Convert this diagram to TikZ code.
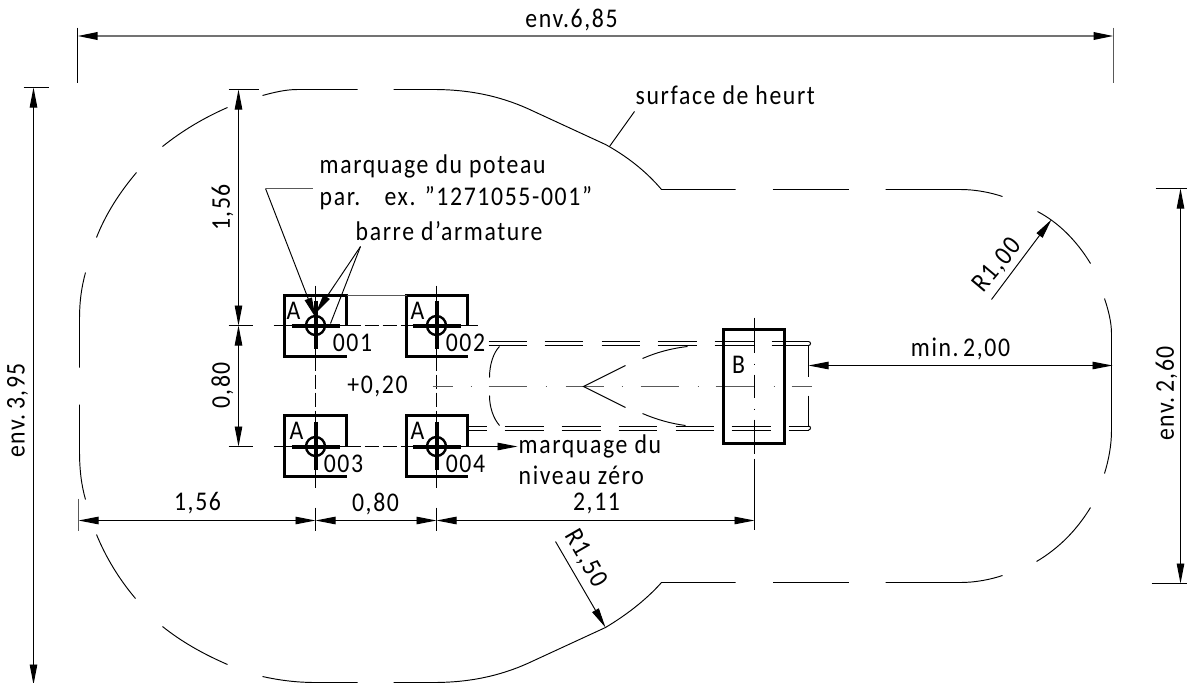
\documentclass[tikz,border=0pt]{standalone}
\usepackage{fontspec}
\setmainfont[LetterSpace=6,FakeStretch=0.88]{Carlito}
\usetikzlibrary{arrows.meta}
\tikzset{
  x=1pt,y=-1pt,
  thinl/.style={line width=0.95pt,black},
  grayl/.style={line width=1pt,black!65},
  postline/.style={line width=3.2pt,black,line cap=butt},
  barline/.style={line width=4pt,black,line cap=butt},
  dimarrow/.style={line width=0.95pt,black,{Stealth[inset=0pt,length=20pt,width=7.5pt]}-{Stealth[inset=0pt,length=20pt,width=7.5pt]}},
  topdim/.style={line width=1.8pt,black!55,{Stealth[inset=0pt,length=20pt,width=7.5pt,black]}-{Stealth[inset=0pt,length=20pt,width=7.5pt,black]}},
  onearrow/.style={line width=0.95pt,black,-{Stealth[inset=0pt,length=20pt,width=7.5pt]}},
  lbl/.style={inner sep=0pt,font=\fontsize{27}{30}\selectfont,text=black},
  lblleft/.style={lbl,anchor=west},
}
\begin{document}
\begin{tikzpicture}[xshift=0.5pt,yshift=-0.5pt]
\useasboundingbox (-0.5,-0.5) rectangle (1186.5,682.5);
% outline
\draw[thinl] (393,89) -- (433,89) .. controls (470,89) and (500,96) .. (527,108) -- (605,144) .. controls (625,155) and (645,170) .. (661,189) -- (735,189);
\draw[thinl] (772,189) -- (848,189);
\draw[thinl] (885,189) -- (960,189) .. controls (975,189) and (990,192) .. (1002,196);
\draw[thinl] (1037,211) .. controls (1058,222) and (1076,240) .. (1090,263);
\draw[thinl] (1104,298) .. controls (1108,310) and (1111,322) .. (1111,333) -- (1111,430) .. controls (1111,445) and (1108,460) .. (1104,473);
\draw[thinl] (1090,507) .. controls (1076,530) and (1058,548) .. (1036,561);
\draw[thinl] (1002,575) .. controls (990,579) and (975,582) .. (960,582) -- (885,582);
\draw[thinl] (848,582) -- (772,582);
\draw[thinl] (735,582) -- (661,582) .. controls (645,600) and (625,615) .. (605,627) -- (527,663) .. controls (500,675) and (470,682) .. (433,682) -- (393,682);
\draw[thinl] (357,682) -- (315,682) .. controls (297,682) and (280,680) .. (262,676);
\draw[thinl] (227,664) .. controls (204,654) and (182,642) .. (162,626);
\draw[thinl] (135,598) .. controls (118,578) and (105,556) .. (96,534);
\draw[thinl] (85,499) .. controls (81,485) and (79,470) .. (79,450) -- (79,404);
\draw[thinl] (79,367) -- (79,320) .. controls (79,300) and (81,287) .. (85,272);
\draw[thinl] (96,237) .. controls (105,214) and (119,192) .. (136,172);
\draw[thinl] (162,146) .. controls (182,130) and (204,117) .. (227,107);
\draw[thinl] (262,95) .. controls (273,92) and (285,89) .. (297,89) -- (357,89);
% posts: box outline (open beside the number), centre lines, cross bars, ring
\foreach \l/\r/\c/\t/\m/\b in {284/346/315/295/325/356, 406/467/436/295/325/356, 284/346/315/415/446/476, 406/467/436/415/446/476}{
  \draw[postline] (\r,\m) -- (\r,\t) -- (\l,\t) -- (\l,\b) -- (\r,\b);
}
\draw[grayl] (346,295) -- (406,295);
\draw[thinl] (273,325) -- (346,325);
\draw[thinl,dash pattern=on 14pt off 4pt] (346,325) -- (406,325);
\draw[thinl] (406,325) -- (477,325);
\draw[thinl] (273,446) -- (346,446);
\draw[thinl,dash pattern=on 14pt off 4pt] (346,446) -- (406,446);
\coordinate (zeroStart) at (406,446);
\coordinate (zeroTip) at (517,446);
\draw[onearrow] (zeroStart) -- (zeroTip);
\foreach \cx in {315,436}{
  \draw[thinl] (\cx,285) -- (\cx,356);
  \draw[thinl,dash pattern=on 14pt off 4pt] (\cx,356) -- (\cx,415);
  \draw[thinl] (\cx,415) -- (\cx,487);
}
\draw[barline] (291,325) -- (339,325);
\draw[barline] (315,300) -- (315,348);
\draw[barline] (412,325) -- (460,325);
\draw[barline] (436,300) -- (436,348);
\draw[barline] (291,446) -- (339,446);
\draw[barline] (315,421) -- (315,469);
\draw[barline] (412,446) -- (460,446);
\draw[barline] (436,421) -- (436,469);
\foreach \cx/\cy in {315/325,436/325,315/446,436/446}{
  \draw[line width=2.4pt,black] (\cx,\cy) circle[radius=9.5];
}
% slab double lines
\foreach \a/\b in {488/526,544/582,601/639,657/696,714/753,771/808}{
  \draw[thinl] (\a,341) -- (\b,341);
  \draw[thinl] (\a,345) -- (\b,345);
}
\foreach \a/\b in {467/486,504/543,561/600,618/656,675/713,731/770,788/808}{
  \draw[thinl] (\a,425.5) -- (\b,425.5);
  \draw[thinl] (\a,429.5) -- (\b,429.5);
}
\draw[thinl] (808,341) arc[start angle=-90,end angle=90,radius=2];
\draw[thinl] (808,425.5) arc[start angle=-90,end angle=90,radius=2];
\draw[thinl] (808,345) -- (808,376);
\draw[thinl] (808,395) -- (808,425.5);
% axis
\foreach \a/\b in {432/452,488/526,565/603,640/678,715/753,791/811}{
  \draw[grayl] (\a,386) -- (\b,386);
}
\foreach \d in {470,545,621,697,773}{
  \draw[grayl] (\d,386) -- (\d+1.5,386);
}
% hull
\draw[thinl] (499,346) .. controls (493,352) and (489,364) .. (489,377);
\draw[thinl] (489,395) .. controls (489,407) and (493,418) .. (499,425);
\draw[thinl] (625,365) -- (583,386) -- (625,407);
\draw[thinl] (642,358) .. controls (656,352) and (670,348) .. (687,346);
\draw[thinl] (642,413) .. controls (656,419) and (670,423) .. (685,425);
% box B
\draw[postline] (723,329) rectangle (784,443);
\draw[thinl] (754,317) -- (754,352);
\draw[thinl] (754,363) -- (754,364.5);
\draw[thinl] (754,374) -- (754,397);
\draw[thinl] (754,408) -- (754,409.5);
\draw[thinl] (754,419) -- (754,453);
\draw[thinl] (754,458) -- (754,529);
\node[lbl] (labB) at (738,364) {B};
% vertical dims
\coordinate (a1) at (238,89); \coordinate (a2) at (238,325); \coordinate (a3) at (238,446);
\draw[dimarrow] (a1) -- (a2);
\draw[dimarrow] (a2) -- (a3);
\draw[thinl] (228,89) -- (258,89);
\draw[thinl] (228,325) -- (252,325);
\draw[thinl] (228,446) -- (252,446);
\node[lbl,rotate=90] (l156v) at (222,207) {1,56};
\node[lbl,rotate=90] (l080v) at (222,385) {0,80};
% bottom dims
\coordinate (b0) at (78,520); \coordinate (b1) at (315,520); \coordinate (b2) at (436,520); \coordinate (b3) at (754,520);
\draw[dimarrow] (b0) -- (b1);
\draw[dimarrow] (b1) -- (b2);
\draw[dimarrow] (b2) -- (b3);
\draw[grayl] (78,498) -- (78,530);
\draw[thinl] (315,507) -- (315,530);
\draw[thinl] (436,507) -- (436,530);
\node[lbl] (l156h) at (197,503) {1,56};
\node[lbl] (l080h) at (375,503) {0,80};
\node[lbl] (l211h) at (596,503) {2,11};
% env dims
\coordinate (t0) at (77,35.5); \coordinate (t1) at (1113,35.5);
\draw[topdim] (t0) -- (t1);
\draw[thinl] (77,27) -- (77,82);
\draw[grayl] (1113,27) -- (1113,82);
\node[lbl] (lenvt) at (571,20) {env.6,85};
\coordinate (l0) at (33,87); \coordinate (l1) at (33,684);
\draw[dimarrow] (l0) -- (l1);
\draw[thinl] (23,87) -- (48,87);
\node[lbl,rotate=90] (lenvl) at (17,410) {env.\,3,95};
\coordinate (r0) at (1180,188); \coordinate (r1) at (1180,583);
\draw[dimarrow] (r0) -- (r1);
\draw[thinl] (1155,188) -- (1187,188);
\draw[thinl] (1151,583) -- (1187,583);
\node[lbl,rotate=90] (lenvr) at (1166,393) {env.\,2,60};
% min 2,00
\coordinate (m0) at (808,365); \coordinate (m1) at (1112,365);
\draw[dimarrow] (m0) -- (m1);
\node[lbl] (lmin) at (960,348) {min.\,2,00};
% radii
\coordinate (r1a) at (991,299); \coordinate (r1b) at (1051,219);
\draw[onearrow] (r1a) -- (r1b);
\node[lbl,rotate=50] (lr100) at (997,265) {R1,00};
\coordinate (r2a) at (555,541); \coordinate (r2b) at (605,627);
\draw[onearrow] (r2a) -- (r2b);
\node[lbl,rotate=-60] (lr150) at (585,558) {R1,50};
% leaders and texts
\coordinate (p0) at (312,188); \coordinate (p1) at (265,188); \coordinate (p2) at (315,317);
\draw[grayl] (p0) -- (p1);
\draw[onearrow] (p1) -- (p2);
\coordinate (q0) at (360,246); \coordinate (q1) at (315,313); \coordinate (q2) at (330,323);
\draw[onearrow] (q0) -- (q1);
\draw[thinl] (q0) -- (q2);
\node[lblleft,anchor=base west] (t1a) at (319,173) {marquage du poteau};
\node[lblleft,anchor=base west] (t1b) at (319,205) {par.\hspace{0.9em}ex. "1271055-001"};
\node[lblleft,anchor=base west] (t1c) at (355,240) {barre d'armature};
\node[lbl] (A1) at (293,310) {A};
\node[lbl] (A2) at (417,310) {A};
\node[lbl] (A3) at (296,430) {A};
\node[lbl] (A4) at (417,430) {A};
\node[lbl] (n1) at (352,342) {001};
\node[lbl] (n2) at (465,342) {002};
\node[lbl] (n3) at (343,463) {003};
\node[lbl] (n4) at (465,463) {004};
\node[lbl] (plus) at (377,386) {+0,20};
\node[lblleft,anchor=base west] (z1) at (518,453) {marquage du};
\node[lblleft,anchor=base west] (z2) at (518,484) {niveau zéro};
\node[lblleft,anchor=base west] (s1) at (635,104) {surface de heurt};
\coordinate (s0) at (634,111); \coordinate (s2) at (609,146);
\draw[thinl] (s0) -- (s2);
\end{tikzpicture}
\end{document}
